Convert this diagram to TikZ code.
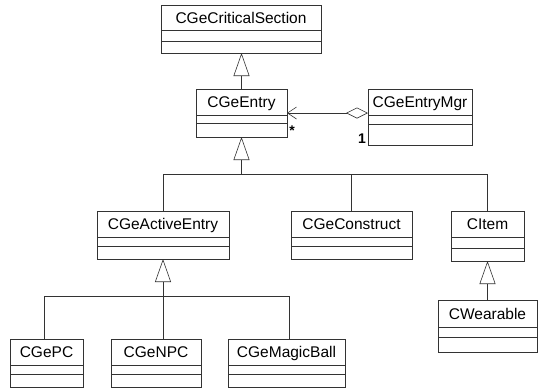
\documentclass[tikz,border=0pt]{standalone}
\usepackage{fontspec}
\setmainfont{Liberation Sans}
\usetikzlibrary{calc,arrows.meta}
\tikzset{
  box/.style={draw=black!80, line width=0.6pt, inner sep=0pt, outer sep=0pt, anchor=north west, rectangle},
  sep/.style={draw=black!80, line width=0.6pt},
  lbl/.style={inner sep=0pt, anchor=base, font=\fontsize{15.5}{18}\selectfont},
  mult/.style={inner sep=0pt, font=\fontsize{14}{16}\selectfont\bfseries},
  conn/.style={draw=black!80, line width=0.6pt},
  gen/.style={conn, -{Triangle[open, length=23pt, width=16pt, line width=0.6pt]}},
  assoc/.style={conn, {Diamond[open, length=22pt, width=11pt, line width=0.6pt]}-{Straight Barb[length=9pt, width=12pt, line width=0.6pt]}},
}
% name, x1, y1, x2, y2, sep1, sep2, text
\newcommand{\umlcls}[8]{%
  \node[box, minimum width=#4pt-#2pt, minimum height=#5pt-#3pt] (#1) at (#2,#3) {};
  \node[lbl] (#1-t) at ($($(#2,#3)!0.5!(#4,#6)$)+(0,5.5)$) {#8};
  \draw[sep] (#2,#6) -- (#4,#6);
  \draw[sep] (#2,#7) -- (#4,#7);
}
\begin{document}
\begin{tikzpicture}[x=1pt,y=-1pt]
\useasboundingbox[fill=white] (0,0) rectangle (541,389);

\umlcls{crit}{161}{5}{321}{53}{30}{41}{CGeCriticalSection}
\umlcls{entry}{196}{89}{287}{137}{115}{123}{CGeEntry}
\umlcls{mgr}{368}{89}{472}{145}{115}{124}{CGeEntryMgr}

\umlcls{active}{97}{211}{229}{259}{237}{246}{CGeActiveEntry}
\umlcls{construct}{291}{211}{412}{259}{237}{246}{CGeConstruct}
\umlcls{item}{451}{211}{524}{261}{237}{248}{CItem}
\umlcls{wear}{438}{300}{537}{352}{327}{337}{CWearable}

\umlcls{pc}{10}{339}{83}{387}{365}{374}{CGePC}
\umlcls{npc}{111}{339}{201}{387}{365}{374}{CGeNPC}
\umlcls{ball}{228}{339}{345}{387}{365}{374}{CGeMagicBall}

% generalization entry -> critical section
\draw[gen] (entry.north) -- (entry.north |- crit.south);

% association mgr -> entry
\draw[assoc] (entry.east -| mgr.west) -- (entry.east);
\node[mult] (mstar) at (292,131) {*};
\node[mult] (mone) at (362,139) {1};

% generalization to entry
\coordinate (h1) at (241.5,174);
\draw[gen] (h1) -- (h1 |- entry.south);
\draw[conn] (active.north) -- (active.north |- h1) -- (item.north |- h1) -- (item.north);
\draw[conn] (construct.north) -- (construct.north |- h1);

% generalization wearable -> item
\draw[gen] (wear.north -| item.south) -- (item.south);

% generalization to active entry
\coordinate (h2) at (163,296);
\coordinate (pcx) at (44,296);
\coordinate (ballx) at (289,296);
\draw[gen] (h2) -- (h2 |- active.south);
\draw[conn] (pcx |- pc.north) -- (pcx) -- (ballx) -- (ballx |- ball.north);
\draw[conn] (h2) -- (h2 |- npc.north);
\end{tikzpicture}
\end{document}
